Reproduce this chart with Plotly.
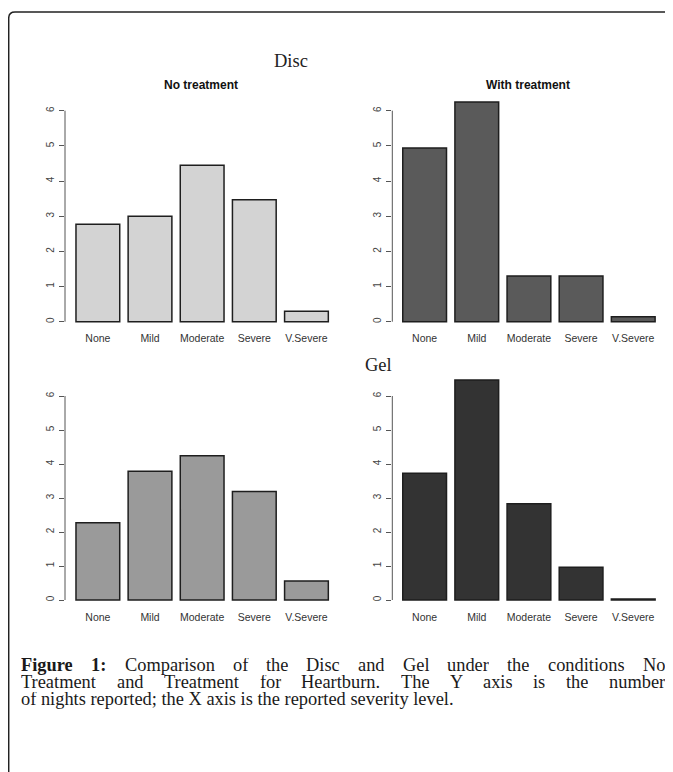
import plotly.graph_objects as go

OFF = 8  # default page margin around the plot div
W, H = 673 - OFF, 772 - OFF

# ---------------- data ----------------
categories = ["None", "Mild", "Moderate", "Severe", "V.Severe"]
disc_no_treatment = [2.77, 3.0, 4.45, 3.47, 0.30]
disc_with_treatment = [4.94, 6.25, 1.30, 1.30, 0.14]
gel_no_treatment = [2.27, 3.79, 4.24, 3.19, 0.56]
gel_with_treatment = [3.73, 6.47, 2.83, 0.96, 0.03]
y_tick_values = [0, 1, 2, 3, 4, 5, 6]
y_tick_labels = ["0", "1", "2", "3", "4", "5", "6"]
panel_titles = ["No treatment", "With treatment"]
group_titles = ["Disc", "Gel"]
caption_label = "Figure 1:"
caption_line1 = "Comparison of the Disc and Gel under the conditions No"
caption_line2 = "Treatment and Treatment for Heartburn. The Y axis is the number"
caption_line3 = "of nights reported; the X axis is the reported severity level."

bar_colors = ["#d3d3d3", "#5a5a5a", "#9a9a9a", "#333333"]


def px_x(p):
    return (p - OFF) / W


def px_y(p):
    return 1 - (p - OFF) / H


PX_PER_CAT = 52.15
PLOT_W = 270
Y_MIN, Y_MAX = -0.06, 6.6

# (values, colour, y-axis line x px, x range start, zero y px, px per unit)
panels = [
    (disc_no_treatment, bar_colors[0], 65.0, -0.63, 321.7, 35.17),
    (disc_with_treatment, bar_colors[1], 392.3, -0.62, 321.7, 35.17),
    (gel_no_treatment, bar_colors[2], 65.0, -0.63, 600.0, 34.0),
    (gel_with_treatment, bar_colors[3], 392.3, -0.62, 600.0, 34.0),
]

SANS = "Liberation Sans, Arial, sans-serif"
SERIF = "Liberation Serif, Times New Roman, serif"

fig = go.Figure()
layout = {}
shapes = []
annotations = []

for i, (vals, col, ax_px, xstart, zero_px, ppu) in enumerate(panels):
    n = "" if i == 0 else str(i + 1)
    fig.add_trace(go.Bar(
        x=categories, y=vals, xaxis="x" + n, yaxis="y" + n,
        marker=dict(color=col, line=dict(color="#1e1e1e", width=1.5)),
        hoverinfo="x+y",
    ))
    layout["xaxis" + n] = dict(
        domain=[px_x(ax_px), px_x(ax_px + PLOT_W)],
        range=[xstart, xstart + PLOT_W / PX_PER_CAT],
        type="category", categoryorder="array", categoryarray=categories,
        anchor="y" + n, showline=False, showgrid=False, zeroline=False,
        ticks="outside", ticklen=5, tickcolor="rgba(0,0,0,0)",
        tickfont=dict(family=SANS, size=10.5, color="#333333"),
    )
    layout["yaxis" + n] = dict(
        domain=[px_y(zero_px - Y_MIN * ppu), px_y(zero_px - Y_MAX * ppu)],
        range=[Y_MIN, Y_MAX], anchor="x" + n,
        tickvals=y_tick_values, ticktext=y_tick_labels, tickangle=-90,
        showline=False, showgrid=False, zeroline=False,
        ticks="outside", ticklen=5, tickwidth=1, tickcolor="#555555",
        ticklabelstandoff=1,
        tickfont=dict(family=SANS, size=10, color="#444444"),
    )
    shapes.append(dict(
        type="line", xref="x" + n + " domain", yref="y" + n,
        x0=0, x1=0, y0=y_tick_values[0], y1=y_tick_values[-1],
        line=dict(color="#555555", width=1),
    ))

# panel titles (top row)
for t, cx in zip(panel_titles, [201, 528]):
    annotations.append(dict(
        text="<b>" + t + "</b>", xref="paper", yref="paper",
        x=px_x(cx), y=px_y(85), xanchor="center", yanchor="middle",
        showarrow=False, font=dict(family=SANS, size=12, color="#111111"),
    ))

# group titles
for t, (cx, cy) in zip(group_titles, [(291, 61), (378, 365)]):
    annotations.append(dict(
        text=t, xref="paper", yref="paper",
        x=px_x(cx), y=px_y(cy), xanchor="center", yanchor="middle",
        showarrow=False, font=dict(family=SERIF, size=18.5, color="#222222"),
    ))

# ---------------- caption (justified) ----------------
TR = {" ": 250, ".": 250, ";": 278, ":": 278, "1": 500,
      "a": 444, "b": 500, "c": 444, "d": 500, "e": 444, "f": 333, "g": 500,
      "h": 500, "i": 278, "l": 278, "m": 778, "n": 500, "o": 500, "p": 500,
      "r": 333, "s": 389, "t": 278, "u": 500, "v": 500, "x": 500, "y": 500,
      "C": 667, "D": 722, "G": 722, "H": 722, "N": 722, "T": 611, "X": 722,
      "Y": 722, "F": 556}
TB = {"F": 611, "i": 278, "g": 500, "u": 556, "r": 444, "e": 444, "1": 500,
      ":": 333, " ": 250}
CAP_SIZE = 18.4
LINE_BOX = 17
LEFT, RIGHT = 21, 665


def wwidth(w, bold):
    tab = TB if bold else TR
    return sum(tab.get(ch, 500) for ch in w) / 1000 * CAP_SIZE


def cap_note(text, x, y_center):
    return dict(
        text=text, xref="paper", yref="paper", x=px_x(x), y=px_y(y_center),
        xanchor="left", yanchor="middle", showarrow=False,
        borderpad=0, borderwidth=0, height=LINE_BOX, valign="bottom",
        font=dict(family=SERIF, size=CAP_SIZE, color="#1a1a1a"),
    )


def add_words(words, y_center):
    total = sum(wwidth(w, b) for w, b in words)
    gap = (RIGHT - LEFT - total) / (len(words) - 1)
    x = LEFT
    for w, b in words:
        annotations.append(cap_note(("<b>" + w + "</b>") if b else w, x, y_center))
        x += wwidth(w, b) + gap


line1 = [(w, True) for w in caption_label.split()] + [(w, False) for w in caption_line1.split()]
line2 = [(w, False) for w in caption_line2.split()]
add_words(line1, 666.5)
add_words(line2, 683.5)
annotations.append(cap_note(caption_line3, LEFT, 700.5))

# outer rounded frame
frame = "M {} {} L {} {} Q {} {} {} {} L {} {}".format(
    px_x(690), px_y(12), px_x(15), px_y(12), px_x(8.7), px_y(12),
    px_x(8.7), px_y(18.3), px_x(8.7), px_y(790))
shapes.append(dict(type="path", xref="paper", yref="paper", path=frame,
                   line=dict(color="#222222", width=1.5)))

fig.update_layout(
    width=W, height=H, autosize=False,
    margin=dict(l=0, r=0, t=0, b=0, pad=0),
    paper_bgcolor="white", plot_bgcolor="white",
    showlegend=False, bargap=0.161,
    shapes=shapes, annotations=annotations,
    **layout,
)

fig.write_html("out.html")
